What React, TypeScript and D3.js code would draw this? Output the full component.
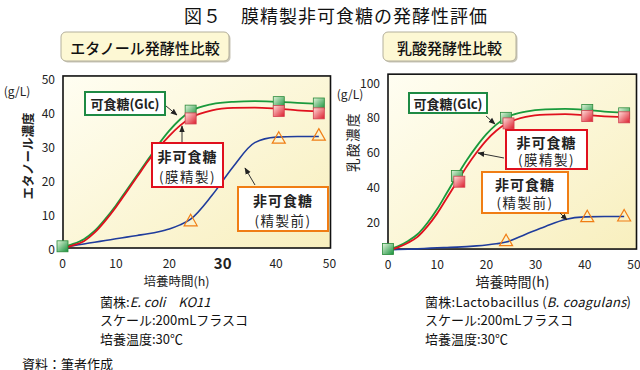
import React from "react";
import * as d3 from "d3";

// ---------------------- data
const hoursTicks = [0, 10, 20, 30, 40, 50];
const ethTicks = [0, 10, 20, 30, 40, 50];
const lacTicks = [20, 40, 60, 80, 100];

// smooth fitted curves, sampled at these hours
const curveT = [0, 2, 4, 6, 8, 10, 12, 14, 16, 18, 20, 22, 24, 28, 32, 36, 40, 44, 48];
const ethGlcCurve = [0.3, 1.2, 2.6, 5, 8.5, 12.5, 17, 21.5, 26, 30.5, 34.5, 37.8, 40.2, 42.3, 43, 43.2, 43, 42.7, 42.4];
const ethMemCurve = [0, 0.8, 2, 4.5, 8, 12, 16.5, 21, 25.5, 29.5, 33, 36, 38.3, 40.5, 41.2, 41.3, 41, 40.5, 40.2];
const ethRawCurve = [0.2, 0.7, 1.2, 1.7, 2.2, 2.7, 3.2, 3.7, 4.2, 4.8, 5.6, 6.8, 8.5, 15.5, 24, 31, 32.6, 32.8, 32.8];
const lacGlcCurve = [3.5, 5.5, 8.5, 12.5, 19, 27, 36.5, 46, 55, 63, 70, 75.5, 79.5, 83, 84.3, 84.5, 84, 83, 82.5];
const lacMemCurve = [3, 5, 7.5, 11, 17, 24.5, 33.5, 42.5, 51.5, 59.5, 66.5, 72, 76, 80, 81.3, 81.5, 81, 80.3, 79.8];
const lacRawCurve = [3.5, 3.7, 3.9, 4.1, 4.4, 4.7, 4.9, 5.1, 5.4, 5.8, 6.3, 7, 8, 12.5, 17, 21, 22.5, 22.7, 22.7];

// measured points
const ethGlcT = [0, 24, 40.5, 48];
const ethGlcV = [0.5, 40.4, 42.9, 42.5];
const ethMemT = [24, 40.5, 48];
const ethMemV = [38.1, 40.3, 39.6];
const ethRawT = [24, 40.5, 48];
const ethRawV = [8, 32.3, 33.2];

const lacGlcT = [0, 14, 24, 40.5, 48];
const lacGlcV = [4, 46, 79.4, 83.9, 82];
const lacMemT = [14.5, 24.5, 40.5, 48];
const lacMemV = [42.7, 76.2, 80.4, 79.7];
const lacRawT = [24, 40.5, 48];
const lacRawV = [8.8, 22.6, 23];

const FONT = "'Noto Sans CJK JP', 'Noto Sans', sans-serif";
const GREEN = "#1a9a3c";
const RED = "#e0101e";
const BLUE = "#1f3c9c";
const ORANGE = "#f07d14";

const zip = (t, v) => t.map((d, i) => [d, v[i]]);

const Callout = ({ x, y, w, h, color, lines, arrow }) => (
   <g>
      <rect x={x} y={y} width={w} height={h} fill="#fff" stroke={color} strokeWidth={2} />
      {lines.map((l, i) => (
         <text
            key={i}
            x={x + w / 2}
            y={lines.length === 1 ? y + h / 2 : y + h * (i === 0 ? 0.3 : 0.74)}
            textAnchor="middle"
            dominantBaseline="central"
            fontSize={l.size || 13}
            fontWeight={l.bold ? 700 : 400}
            letterSpacing={l.spacing || 0}
            fill="#222"
         >
            {l.text}
         </text>
      ))}
      <line
         x1={arrow[0]}
         y1={arrow[1]}
         x2={arrow[2]}
         y2={arrow[3]}
         stroke="#333"
         strokeWidth={1}
         markerEnd="url(#arrowHead)"
      />
   </g>
);

const Square = ({ cx, cy, kind }) => (
   <rect
      x={cx - 5.5}
      y={cy - 5.5}
      width={11}
      height={11}
      fill={`url(#${kind}Sq)`}
      stroke={kind === "green" ? "#2a8a3a" : "#d24050"}
      strokeWidth={0.8}
   />
);

const Triangle = ({ cx, cy }) => (
   <path
      d={`M${cx},${cy - 6.5}L${cx + 6.5},${cy + 5}L${cx - 6.5},${cy + 5}Z`}
      fill="none"
      stroke={ORANGE}
      strokeWidth={1.2}
   />
);

const Panel = ({ x, y, frame, curves, glc, mem, raw, yTicks, xLabelBold }) => {
   const line = d3
      .line()
      .x(d => x(d[0]))
      .y(d => y(d[1]))
      .curve(d3.curveMonotoneX);
   return (
      <g>
         <rect
            x={frame.x0}
            y={frame.y0}
            width={frame.x1 - frame.x0}
            height={frame.y1 - frame.y0}
            fill="url(#plotBg)"
            stroke="#111"
            strokeWidth={1.6}
         />
         {/* y tick labels */}
         {yTicks.map(t => (
            <text key={t} x={frame.x0 - 8} y={y(t)} textAnchor="end" dominantBaseline="central" fontSize={12} fill="#222">
               {t}
            </text>
         ))}
         {/* x tick labels */}
         {hoursTicks.map(t => (
            <text
               key={t}
               x={x(t)}
               y={frame.y1 + 14}
               textAnchor="middle"
               dominantBaseline="central"
               fontSize={xLabelBold && t === 30 ? 15 : 12}
               fontWeight={xLabelBold && t === 30 ? 700 : 400}
               fill="#222"
            >
               {t}
            </text>
         ))}
         <path d={line(zip(curveT, curves[2]))} fill="none" stroke={BLUE} strokeWidth={1.6} />
         <path d={line(zip(curveT, curves[0]))} fill="none" stroke={GREEN} strokeWidth={1.8} />
         <path d={line(zip(curveT, curves[1]))} fill="none" stroke={RED} strokeWidth={1.8} />
         {zip(raw[0], raw[1]).map((d, i) => (
            <Triangle key={"t" + i} cx={x(d[0])} cy={y(d[1])} />
         ))}
         {zip(glc[0], glc[1]).map((d, i) => (
            <Square key={"g" + i} cx={x(d[0])} cy={y(d[1])} kind="green" />
         ))}
         {zip(mem[0], mem[1]).map((d, i) => (
            <Square key={"r" + i} cx={x(d[0])} cy={y(d[1])} kind="red" />
         ))}
      </g>
   );
};

const SubTitle = ({ x, y, w, h, text }) => (
   <g>
      <rect x={x + 1.5} y={y + 1.5} width={w} height={h} rx={5} fill="#c9c6b8" />
      <rect x={x} y={y} width={w} height={h} rx={5} fill="#fdf8d4" stroke="#b4b09c" strokeWidth={1} />
      <text
         x={x + w / 2}
         y={y + h / 2 + 1}
         textAnchor="middle"
         dominantBaseline="central"
         fontSize={15}
         fontWeight={500}
         fill="#111"
      >
         {text}
      </text>
   </g>
);

const App = () => {
   // ---------------------- scales
   const xL = d3.scaleLinear().domain([0, 50]).range([62.5, 329.5]);
   const yL = d3.scaleLinear().domain([0, 50]).range([248, 78]);
   const xR = d3.scaleLinear().domain([0, 50]).range([388, 634]);
   const yR = d3.scaleLinear().domain([0, 100]).range([256, 82]);

   const frameL = { x0: xL(0) + 0.5, x1: xL(50) + 1, y0: yL(50.6), y1: yL(0) };
   const frameR = { x0: xR(0), x1: xR(50) + 2.5, y0: yR(104.5), y1: yR(4) };

   const memLines = [
      { text: "非可食糖", bold: true, size: 14, spacing: 1 },
      { text: "(膜精製)", bold: false, size: 13.5, spacing: 1.5 }
   ];
   const rawLines = [
      { text: "非可食糖", bold: true, size: 14, spacing: 1 },
      { text: "(精製前)", bold: false, size: 13.5, spacing: 1.5 }
   ];

   return (
      <svg
         width={640}
         height={370}
         style={{ position: "absolute", left: 0, top: 0, background: "#fff" }}
         fontFamily={FONT}
      >
         <defs>
            <linearGradient id="plotBg" x1="0" y1="0" x2="1" y2="1">
               <stop offset="0" stopColor="#fffef2" />
               <stop offset="1" stopColor="#f8efbe" />
            </linearGradient>
            <linearGradient id="greenSq" x1="0" y1="0" x2="1" y2="1">
               <stop offset="0" stopColor="#e4f5dc" />
               <stop offset="1" stopColor="#14903a" />
            </linearGradient>
            <linearGradient id="redSq" x1="0" y1="0" x2="1" y2="1">
               <stop offset="0" stopColor="#ffe0dc" />
               <stop offset="1" stopColor="#dc1c2c" />
            </linearGradient>
            <marker id="arrowHead" viewBox="0 0 10 10" refX="9" refY="5" markerWidth="7" markerHeight="7" orient="auto">
               <path d="M0,1L10,5L0,9Z" fill="#222" />
            </marker>
         </defs>

         <text x={184} y={15} dominantBaseline="central" fontSize={18} letterSpacing={1} fill="#111">
            図５　膜精製非可食糖の発酵性評価
         </text>

         <SubTitle x={61} y={32} w={168} h={29} text="エタノール発酵性比較" />
         <SubTitle x={383} y={32} w={133} h={29} text="乳酸発酵性比較" />

         {/* ---------------- left: ethanol */}
         <text x={17} y={90} textAnchor="middle" dominantBaseline="central" fontSize={12} fill="#222">
            (g/L)
         </text>
         <text
            transform="translate(27,156) rotate(-90)"
            textAnchor="middle"
            dominantBaseline="central"
            fontSize={12.5}
            fontWeight={700}
            fill="#222"
         >
            エタノール濃度
         </text>
         <Panel
            x={xL}
            y={yL}
            frame={frameL}
            curves={[ethGlcCurve, ethMemCurve, ethRawCurve]}
            glc={[ethGlcT, ethGlcV]}
            mem={[ethMemT, ethMemV]}
            raw={[ethRawT, ethRawV]}
            yTicks={ethTicks}
            xLabelBold
         />
         <text x={176.5} y={280} textAnchor="middle" dominantBaseline="central" fontSize={12.5} fill="#222">
            培養時間(h)
         </text>
         <Callout x={85} y={92} w={80} h={23} color="#1e8a44" lines={[{ text: "可食糖(Glc)", bold: true, size: 13 }]} arrow={[166, 106, 177, 115]} />
         <Callout x={152} y={143} w={71} h={44} color={RED} lines={memLines} arrow={[182, 142, 182, 126]} />
         <Callout x={238} y={187} w={90} h={44} color={ORANGE} lines={rawLines} arrow={[255, 185, 245, 168]} />

         {/* ---------------- right: lactic acid */}
         <text x={350} y={93} textAnchor="middle" dominantBaseline="central" fontSize={12} fill="#222">
            (g/L)
         </text>
         <text
            transform="translate(352,142) rotate(-90)"
            textAnchor="middle"
            dominantBaseline="central"
            fontSize={13.5}
            letterSpacing={1.5}
            fill="#222"
         >
            乳酸濃度
         </text>
         <Panel
            x={xR}
            y={yR}
            frame={frameR}
            curves={[lacGlcCurve, lacMemCurve, lacRawCurve]}
            glc={[lacGlcT, lacGlcV]}
            mem={[lacMemT, lacMemV]}
            raw={[lacRawT, lacRawV]}
            yTicks={lacTicks}
         />
         <text x={512.5} y={281} textAnchor="middle" dominantBaseline="central" fontSize={14} fill="#222">
            培養時間(h)
         </text>
         <Callout x={409} y={93} w={78} h={20} color="#1e8a44" lines={[{ text: "可食糖(Glc)", bold: true, size: 13 }]} arrow={[486, 116, 495, 124]} />
         <Callout x={506} y={130} w={81} h={39} color={RED} lines={memLines} arrow={[504, 158, 478, 153]} />
         <Callout x={482} y={172} w={86} h={41} color={ORANGE} lines={rawLines} arrow={[560, 213, 567, 220]} />

         {/* ---------------- notes */}
         <g fontSize={13} fill="#111">
            <text x={100} y={301} dominantBaseline="central">
               菌株:<tspan fontStyle="italic">E. coli　KO11</tspan>
            </text>
            <text x={100} y={319.5} dominantBaseline="central">スケール:200mLフラスコ</text>
            <text x={100} y={338.5} dominantBaseline="central">培養温度:30℃</text>
            <text x={425} y={301} dominantBaseline="central" textLength={206} lengthAdjust="spacing">
               菌株:Lactobacillus (<tspan fontStyle="italic">B.  coagulans</tspan>)
            </text>
            <text x={425} y={319.5} dominantBaseline="central">スケール:200mLフラスコ</text>
            <text x={425} y={338.5} dominantBaseline="central">培養温度:30℃</text>
            <text x={22} y={363} dominantBaseline="central">
               資料：筆者作成
            </text>
         </g>
      </svg>
   );
};

export default App;
